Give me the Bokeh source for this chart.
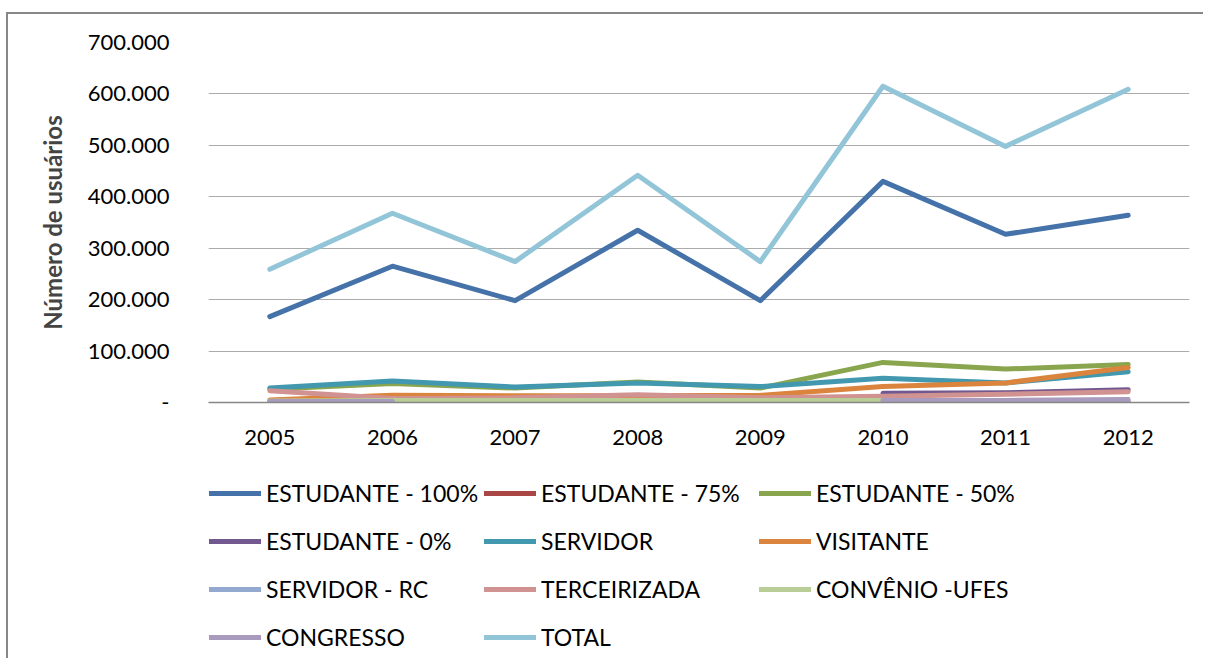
import math
from bokeh.plotting import figure
from bokeh.layouts import column
from bokeh.models import (Range1d, FactorRange, FixedTicker, CustomJSTickFormatter,
                          Legend, LegendItem)
from bokeh.embed import file_html
from bokeh.resources import INLINE

nan = float("nan")

years = ["2005", "2006", "2007", "2008", "2009", "2010", "2011", "2012"]
y_ticks = [0, 100000, 200000, 300000, 400000, 500000, 600000, 700000]

est100 = [167000, 265000, 198000, 335000, 198000, 430000, 327000, 364000]
est75 = [2000, 1000, 1000, 1000, 1000, 1000, 1000, 1000]
est50 = [26000, 37000, 28000, 40000, 28000, 78000, 65000, 74000]
est0 = [nan, nan, nan, nan, nan, 18000, 19000, 25000]
servidor = [28000, 42000, 30000, 38000, 31000, 47000, 38000, 60000]
visitante = [5000, 14000, 13000, 13000, 14000, 31000, 38000, 68000]
servidor_rc = [1500, 1500, 1500, 1500, 1500, 1500, 1500, 1500]
terceirizada = [23000, 8000, 9000, 15000, 9000, 12000, 16000, 21000]
convenio = [3000, 4000, 4000, 4000, 4000, 4000, nan, nan]
congresso = [2000, 2000, nan, nan, nan, 4000, 4000, 6000]
total = [259000, 368000, 274000, 442000, 274000, 615000, 498000, 609000]

series = [
    ("ESTUDANTE - 100%", est100, "#4572A8"),
    ("ESTUDANTE - 75%", est75, "#AA4643"),
    ("ESTUDANTE - 50%", est50, "#89A54E"),
    ("ESTUDANTE - 0%", est0, "#71588F"),
    ("SERVIDOR", servidor, "#4198AF"),
    ("VISITANTE", visitante, "#DB843D"),
    ("SERVIDOR - RC", servidor_rc, "#93A9CF"),
    ("TERCEIRIZADA", terceirizada, "#D19392"),
    ("CONVÊNIO -UFES", convenio, "#B9CD96"),
    ("CONGRESSO", congresso, "#A99BBD"),
    ("TOTAL", total, "#92C5D8"),
]

FONT = "Lato"
BORDER = "2px solid #878787"
LW = 5

p = figure(width=1197, height=448, x_range=FactorRange(*years),
           y_range=Range1d(0, 700000), output_backend="svg",
           toolbar_location=None, min_border_left=200, min_border_right=16,
           min_border_top=28, min_border_bottom=60)
p.margin = (12, 0, 0, 6)
p.styles = {"border-left": BORDER, "border-top": BORDER}
p.outline_line_color = None
p.background_fill_color = "white"
p.border_fill_color = "white"

for name, vals, col in series:
    p.line(x=years, y=vals, line_color=col, line_width=LW,
           line_cap="round", line_join="round")

p.xgrid.grid_line_color = None
p.ygrid.grid_line_color = "#ABABAB"
p.ygrid.grid_line_width = 1.2
p.yaxis.ticker = FixedTicker(ticks=y_ticks)
p.yaxis.formatter = CustomJSTickFormatter(code="""
if (tick == 0) { return '-'; }
return (tick/1000).toFixed(0) + '.000';
""")
p.yaxis.axis_line_color = None
p.yaxis.major_tick_line_color = None
p.yaxis.minor_tick_line_color = None
p.yaxis.major_label_standoff = 33
p.yaxis.major_label_text_font = FONT
p.yaxis.major_label_text_font_size = "22px"
p.yaxis.major_label_text_color = "#000000"
p.yaxis.axis_label = "Número de usuários"
p.yaxis.axis_label_text_font = FONT
p.yaxis.axis_label_text_font_style = "bold"
p.yaxis.axis_label_text_font_size = "24px"
p.yaxis.axis_label_standoff = 18

p.xaxis.axis_line_color = "#868686"
p.xaxis.axis_line_width = 1.5
p.xaxis.major_tick_line_color = None
p.xaxis.minor_tick_line_color = None
p.xaxis.major_label_standoff = 21
p.xaxis.major_label_text_font = FONT
p.xaxis.major_label_text_font_size = "22px"
p.xaxis.major_label_text_color = "#000000"

# legend figure (lines drawn out of view, used only for the legend glyphs)
lf = figure(width=1197, height=198, x_range=FactorRange(*years),
            y_range=Range1d(-2, -1), output_backend="svg", toolbar_location=None,
            min_border=0, x_axis_type=None, y_axis_type=None)
lf.margin = (0, 0, 0, 6)
lf.styles = {"border-left": BORDER}
lf.outline_line_color = None
lf.grid.visible = False
lf.background_fill_color = "white"
lf.border_fill_color = "white"

items = []
for name, vals, col in series:
    r = lf.line(x=years, y=vals, line_color=col, line_width=LW,
                line_cap="round", line_join="round")
    items.append(LegendItem(label=name, renderers=[r]))

common = dict(orientation="horizontal", padding=0, margin=0,
              border_line_color=None, background_fill_alpha=0, glyph_width=52,
              glyph_height=48, label_height=48, label_width=212, label_standoff=5,
              spacing=6, label_text_font=FONT, label_text_font_size="23px",
              label_text_color="#000000")
rows = [items[0:3], items[3:6], items[6:9], items[9:11]]
for i, row in enumerate(rows):
    lg = Legend(items=row, location=(1, 141 - 48 * i), **common)
    lf.add_layout(lg, "center")

layout = column(p, lf, spacing=0)
open("out.html", "w").write(file_html(layout, INLINE))
